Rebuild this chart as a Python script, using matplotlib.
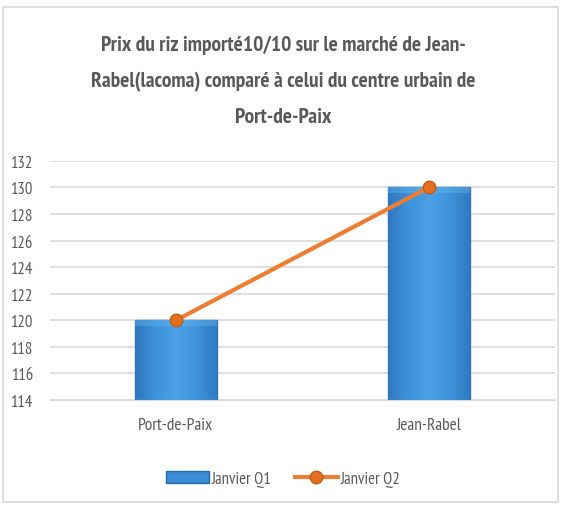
import numpy as np
import matplotlib.pyplot as plt
from matplotlib.patches import Rectangle
from matplotlib.colors import LinearSegmentedColormap

# données
categories = ['Port-de-Paix', 'Jean-Rabel']
q1 = [120, 130]
q2 = [120, 130]
yticks = [114, 116, 118, 120, 122, 124, 126, 128, 130, 132]

plt.rcParams['font.family'] = ['PT Sans Narrow', 'DejaVu Sans']
gris = '#595959'

fig = plt.figure(figsize=(5.66, 5.06), dpi=100)
fig.patches.append(Rectangle((0.006, 0.006), 0.98, 0.978, transform=fig.transFigure,
                             fill=False, edgecolor='#d9d9d9', lw=1.2))
ax = fig.add_axes([0.0875, 0.2075, 0.893, 0.4725])

x = range(len(categories))
barres = ax.bar(x, [v - 114 for v in q1], bottom=114, width=0.325, color='#3a8cd6',
                edgecolor='#2b6aa6', lw=1, label='Janvier Q1', zorder=2)

# léger dégradé sur les barres (effet Excel)
cmap = LinearSegmentedColormap.from_list('bleu', ['#2f78c0', '#3f93dc', '#4a9fe6', '#3f93dc', '#2f78c0'])
grad = np.linspace(0, 1, 64).reshape(1, -1)
for b in barres:
    x0, y0 = b.get_x(), b.get_y()
    im = ax.imshow(grad, cmap=cmap, aspect='auto', zorder=2.1,
                   extent=(x0, x0 + b.get_width(), y0, y0 + b.get_height()))
    im.set_clip_path(b)
    haut = y0 + b.get_height()
    ax.fill_between([x0, x0 + b.get_width()], haut - 0.4, haut, color='#6cc0f2',
                    alpha=0.35, lw=0, zorder=2.2)

ligne, = ax.plot(x, q2, color='#ed7d31', lw=3, marker='o', ms=9, mfc='#e0701f',
                 mec='#c85a10', label='Janvier Q2', zorder=3)

ax.set_xlim(-0.5, 1.5)
ax.set_ylim(114, 132)
ax.set_yticks(yticks)
ax.set_xticks(list(x))
ax.set_xticklabels(categories)
ax.grid(axis='y', color='#d9d9d9', lw=1.2, zorder=0)
ax.tick_params(axis='y', length=0, labelsize=12, colors=gris, pad=12)
ax.tick_params(axis='x', length=0, labelsize=12.5, colors=gris, pad=12)
for s in ['top', 'right', 'left']:
    ax.spines[s].set_visible(False)
ax.spines['bottom'].set_color('#d9d9d9')

fig.text(0.5, 0.93, "Prix du riz importé10/10 sur le marché de Jean-\n"
         "Rabel(lacoma) comparé à celui du centre urbain de\nPort-de-Paix",
         ha='center', va='top', fontsize=15.5, fontweight='bold', color=gris,
         linespacing=2.1)

fig.legend([barres, ligne], ['Janvier Q1', 'Janvier Q2'], loc='center',
           bbox_to_anchor=(0.5, 0.052), ncol=2, frameon=False,
           fontsize=12, labelcolor=gris, handlelength=2.6, columnspacing=1.4,
           handletextpad=0.15)

plt.savefig('out.png', dpi=100)
